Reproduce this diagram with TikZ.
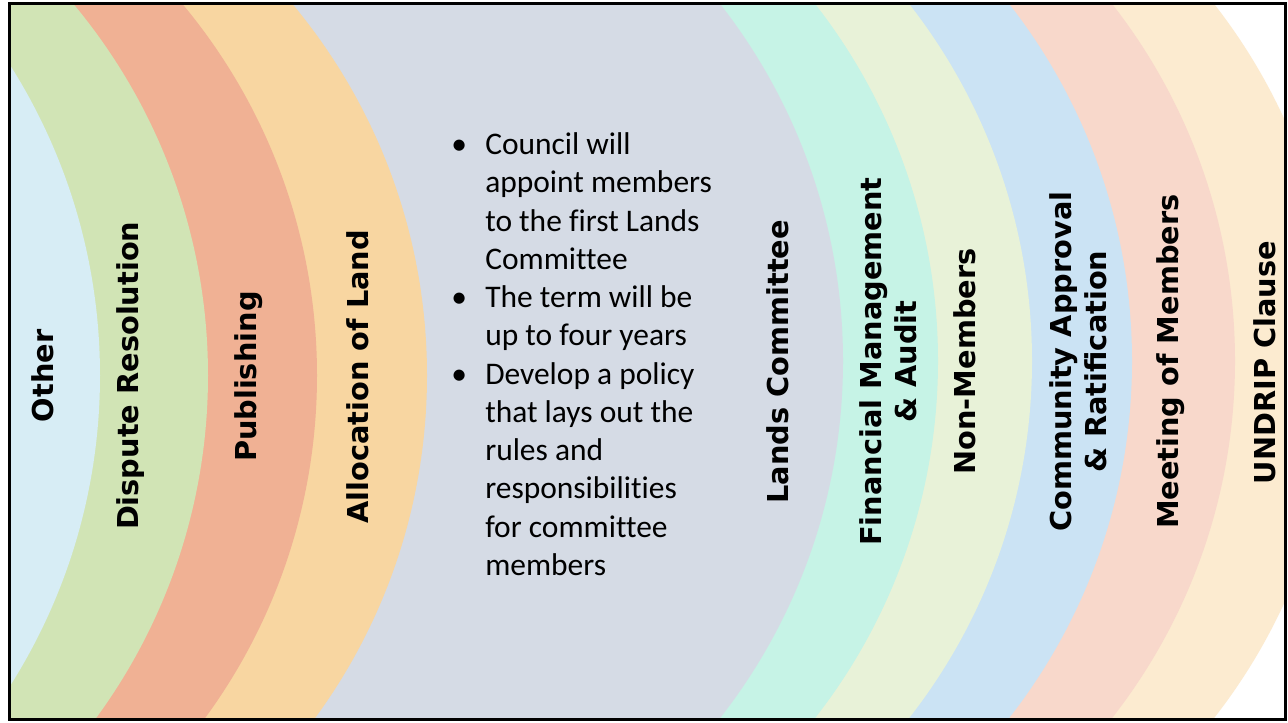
\documentclass[tikz,border=0pt]{standalone}
\usepackage{fontspec}
\setmainfont{Carlito}[Ligatures=NoCommon]
\newfontfamily\bandfont{DejaVu Sans}
\usepackage{xcolor}
\definecolor{otherblue}{HTML}{D7EDF5}
\definecolor{disputegreen}{HTML}{D1E4B5}
\definecolor{publishsalmon}{HTML}{F0B194}
\definecolor{allocorange}{HTML}{F8D6A1}
\definecolor{landsgrey}{HTML}{D5DBE5}
\definecolor{financeteal}{HTML}{C6F3E6}
\definecolor{nonmemgreen}{HTML}{E8F2D8}
\definecolor{communityblue}{HTML}{CBE3F4}
\definecolor{meetingpink}{HTML}{F8D8CB}
\definecolor{undripcream}{HTML}{FCEBD0}
\tikzset{band label/.style={
    rotate=90, inner sep=0pt, align=center,
    font=\bandfont\bfseries\fontsize{21.6}{26.3}\selectfont
}}
\tikzset{point list/.style={
    inner sep=0pt, anchor=base west,
    font=\fontsize{23.6}{28.7}\selectfont
}}

\begin{document}
\begin{tikzpicture}[x=0.75pt, y=0.75pt]
\useasboundingbox (0,0) rectangle (1288,723);

%bands
\begin{scope}
\clip (9,3.5) rectangle (1285,719.5);
\fill[white] (9,3.5) rectangle (1285,719.5);
\fill[undripcream] (757,362) circle[radius=580];
\fill[meetingpink] (655,362) circle[radius=580];
\fill[communityblue] (552,362) circle[radius=580];
\fill[nonmemgreen] (452,362) circle[radius=580];
\fill[financeteal] (358,362) circle[radius=580];
\fill[landsgrey] (263,362) circle[radius=580];
\fill[allocorange] (-153,347.5) circle[radius=580];
\fill[publishsalmon] (-263,347.5) circle[radius=580];
\fill[disputegreen] (-372,347.5) circle[radius=580];
\fill[otherblue] (-480,347.5) circle[radius=580];
\end{scope}

%frame
\draw[line width=2.25pt] (9,3.5) rectangle (1285,719.5);

%left labels
\node[band label, anchor=base] (other) at (53.3,347) {Other};
\node[band label, anchor=base] (dispute) at (138.3,347.2) {Dispute Resolution};
\node[band label, anchor=base] (publishing) at (256.7,346.3) {Publishing};
\node[band label, anchor=base] (allocation) at (368.3,346.3) {Allocation of Land};

%middle
\node[point list] (points) at (451,568.5) {%
\begin{tabular}[t]{@{}p{25.5pt}@{}l@{}}
\textbullet & Council will\\
 & appoint members\\
 & to the first Lands\\
 & Committee\\
\textbullet & The term will be\\
 & up to four years\\
\textbullet & Develop a policy\\
 & that lays out the\\
 & rules and\\
 & responsibilities\\
 & for committee\\
 & members
\end{tabular}};

%right labels
\node[band label, anchor=base] (lands) at (788.3,361.3) {Lands Committee};
\node[band label] (finance) at (888.4,361.3) {Financial Management\\ \& Audit};
\node[band label, anchor=base] (nonmembers) at (975,361.5) {Non-Members};
\node[band label] (community) at (1078.2,361.3) {Community Approval\\ \& Ratification};
\node[band label, anchor=base] (meeting) at (1178.3,361.3) {Meeting of Members};
\node[band label, anchor=base] (undrip) at (1275,360.5) {UNDRIP Clause};

\end{tikzpicture}
\end{document}
